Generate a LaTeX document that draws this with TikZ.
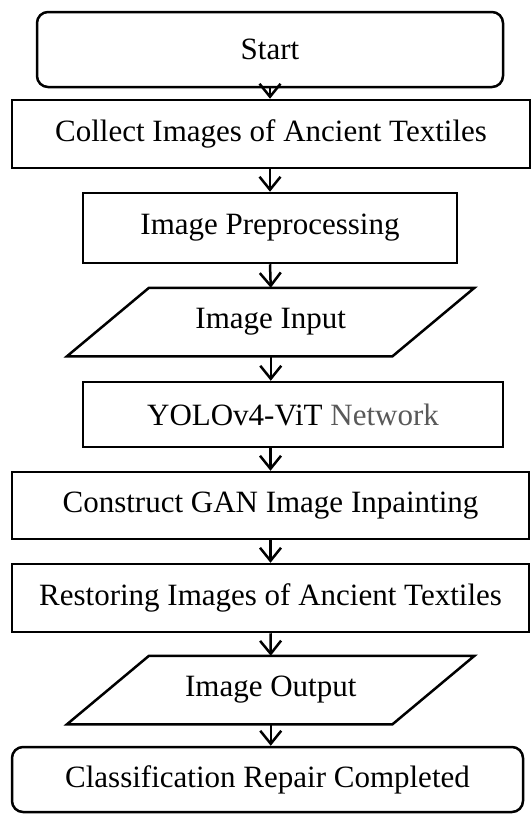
\documentclass[tikz,border=0pt]{standalone}
\usepackage{fontspec}
\setmainfont{Liberation Serif}
\usetikzlibrary{arrows.meta}
\definecolor{netgray}{RGB}{89,89,89}
\begin{document}
\begin{tikzpicture}[x=1pt,y=1pt,line width=2.5pt,
  every node/.style={font=\fontsize{31}{37}\selectfont,inner sep=0pt},
  procbox/.style={draw,rectangle,minimum height=68pt},
  termbox/.style={draw,rectangle,rounded corners=11pt,minimum height=70pt},
  iobox/.style={rectangle,minimum width=323pt,minimum height=66pt},
  arr/.style={-{Straight Barb[length=13pt,width=21pt,line width=2.5pt]}}]
\useasboundingbox (0,0) rectangle (531,-814);
\node[termbox,minimum width=466pt,minimum height=75pt] (start) at (270,-49.5) {Start};
\node[procbox,minimum width=518pt] (collect) at (271,-134) {Collect Images of Ancient Textiles};
\node[procbox,minimum width=374pt,minimum height=70pt] (prep) at (270,-228) {Image Preprocessing};
\node[iobox] (input) at (270.75,-322) {Image Input};
\draw ([xshift=41pt]input.north west) -- ([xshift=41pt]input.north east) -- ([xshift=-41pt]input.south east) -- ([xshift=-41pt]input.south west) -- cycle;
\node[procbox,minimum width=420pt,minimum height=65pt] (yolo) at (293,-414.5) {YOLOv4-ViT \textcolor{netgray}{Network}};
\node[procbox,minimum width=517pt,minimum height=67pt] (construct) at (270.5,-505.5) {Construct GAN Image Inpainting};
\node[procbox,minimum width=517pt] (restore) at (270.5,-598) {Restoring Images of Ancient Textiles};
\node[iobox] (output) at (270.75,-690) {Image Output};
\draw ([xshift=41pt]output.north west) -- ([xshift=41pt]output.north east) -- ([xshift=-41pt]output.south east) -- ([xshift=-41pt]output.south west) -- cycle;
\node[termbox,minimum width=511pt,minimum height=65pt] (finish) at (267.5,-779.5) {Classification Repair Completed};
\draw[arr] (start.south) -- (start.south |- collect.north);
\draw[arr] (prep.north |- collect.south) -- (prep.north);
\draw[arr] (prep.south) -- (input.north);
\draw[arr] (input.south) -- (input.south |- yolo.north);
\draw[arr] (construct.north |- yolo.south) -- (construct.north);
\draw[arr] (construct.south) -- (restore.north);
\draw[arr] (restore.south) -- (output.north);
\draw[arr] (output.south) -- (output.south |- finish.north);
\end{tikzpicture}
\end{document}
